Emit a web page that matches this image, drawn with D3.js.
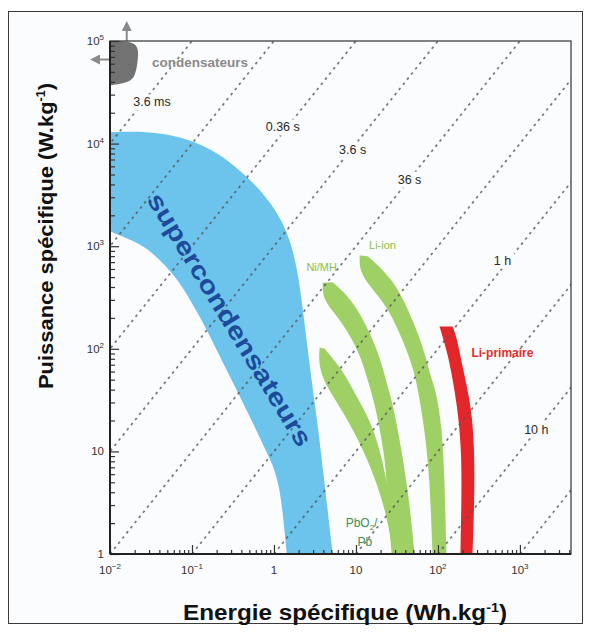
<!DOCTYPE html>
<html><head><meta charset="utf-8">
<script src="https://cdn.jsdelivr.net/npm/d3@7"></script>
<style>
body{margin:0;background:#fff}
svg{display:block;font-family:"Liberation Sans",Arial,Helvetica,sans-serif}
</style>
</head><body>
<svg id="chart" width="590" height="634"></svg>
<script>
// ---------- DATA ----------
// Axis ticks (E in Wh/kg, P in W/kg)
const xTicks = [0.01, 0.1, 1, 10, 100, 1000];
const xTickBase = ["10", "10", "1", "10", "10", "10"];
const xTickExp  = ["−2", "−1", "", "", "2", "3"];
const yTicks = [1, 10, 100, 1000, 10000, 100000];
const yTickBase = ["1", "10", "10", "10", "10", "10"];
const yTickExp  = ["", "", "2", "3", "4", "5"];

// Constant discharge-time lines (hours): P = E / t
const durationsH = [1e-6, 1e-5, 1e-4, 1e-3, 1e-2, 1e-1, 1, 10, 100, 1000];
const durationLabels = [
  {text: "3.6 ms", E: 0.0325, P: 25400},
  {text: "0.36 s", E: 1.28,   P: 14500},
  {text: "3.6 s",  E: 9.1,    P: 8800},
  {text: "36 s",   E: 45,     P: 4490},
  {text: "1 h",    E: 612,    P: 727},
  {text: "10 h",   E: 1585,   P: 16.3}
];

// Regions: two edges each, listed top -> bottom, points [E, P]
const condensateurs = [[0.01,100000],[0.0225,100000],[0.022,66000],[0.0205,46000],[0.017,39000],[0.01,37000]];
const superUpper = [[0.01,12900],[0.028,13200],[0.071,11800],[0.18,8800],[0.38,5600],[0.73,3350],[1.18,1950],
  [1.56,1165],[1.9,635],[2.24,258],[2.73,67],[3.32,21.8],[3.93,7.1],[5.2,1]];
const superLower = [[0.01,1395],[0.0175,1165],[0.028,973],[0.049,635],[0.077,405],[0.125,206],[0.2,98],
  [0.315,46.8],[0.51,21.8],[0.82,9.7],[1.18,5.3],[1.43,1]];
const pbLeft  = [[3.61,103],[3.5,75],[3.9,52.3],[4.92,37.3],[8.38,19],[13.5,8.86],[20.6,3.6],[25.7,1.71],[28,1]];
const pbRight = [[4.16,100],[5.82,73],[7.7,52.3],[9.9,35.7],[15.5,19],[20.6,8.86],[23.7,4.94],[29.6,2.15],[34,1]];
const nimhLeft  = [[3.93,440],[3.95,300],[5.98,206],[8.61,132],[11.4,84],[13.9,50],[16.4,31.9],[18.9,19],
  [22.4,8.86],[23.7,4.94],[27.2,1]];
const nimhRight = [[5.2,445],[7.7,338],[11.1,226],[15.5,132],[20.6,73],[24.3,42.8],[27.2,31.9],[31.3,19],
  [37.1,8.86],[42.7,4.22],[47.7,2.01],[51.9,1]];
const liionLeft  = [[11.1,810],[11.1,555],[16,378],[23.7,258],[31.3,165],[41.5,98],[51.9,58.6],[59.7,31.9],
  [66.8,19],[79,6.18],[85.9,1]];
const liionRight = [[13.9,800],[21.1,593],[31.3,405],[41.5,258],[54.8,154],[68.7,92],[83.6,50],[93.5,40],
  [110.6,19],[120,6.18],[127,1]];
const liprimLeft  = [[104.5,165],[127,98],[142,67],[173,27.3],[194,10.4],[194,3.37],[188,1]];
const liprimRight = [[151,165],[169,132],[199,67],[257,27.3],[279,10.4],[279,3.37],[264,1]];

const regionLabels = [
  {text: "condensateurs", E: 0.125, P: 62400, color: "#8a8a8a", size: 13.5, weight: "bold"},
  {text: "Ni/MH",  E: 3.82, P: 621,  color: "#86bf4a", size: 11, weight: "normal"},
  {text: "Li-ion", E: 21.1, P: 1018, color: "#86bf4a", size: 11, weight: "normal"},
  {text: "Li-primaire", E: 612, P: 92, color: "#e0302f", size: 12, weight: "bold"}
];

// ---------- CHART ----------
const svg = d3.select("#chart");
const m = {l: 110, r: 571, t: 41, b: 554};
const x = d3.scaleLog().domain([0.01, 4200]).range([m.l, m.r]);
const y = d3.scaleLog().domain([1, 1e5]).range([m.b, m.t]);

svg.append("rect").attr("x", 8.5).attr("y", 11.5).attr("width", 574).attr("height", 612)
  .attr("fill", "#fbfcfd").attr("stroke", "#3a3a3a").attr("stroke-width", 1);

const defs = svg.append("defs");
defs.append("clipPath").attr("id", "plot")
  .append("rect").attr("x", m.l).attr("y", m.t).attr("width", m.r - m.l).attr("height", m.b - m.t);

const plot = svg.append("g").attr("clip-path", "url(#plot)");

const edge = d3.line().x(d => x(d[0])).y(d => y(d[1])).curve(d3.curveBasis);
const band = (a, b) => edge(a) + edge(b.slice().reverse()).replace(/^M/, "L") + "Z";

plot.append("path").attr("d", edge(condensateurs) + "Z").attr("fill", "#727272");
plot.append("path").attr("d", band(superUpper, superLower)).attr("fill", "#6cc3ec");
plot.append("path").attr("d", band(pbLeft, pbRight)).attr("fill", "#9fd065");
plot.append("path").attr("d", band(nimhLeft, nimhRight)).attr("fill", "#9fd065");
plot.append("path").attr("d", band(liionLeft, liionRight)).attr("fill", "#9fd065");
plot.append("path").attr("d", band(liprimLeft, liprimRight)).attr("fill", "#e3262a");

// constant-time dashed lines
plot.selectAll("line.t").data(durationsH).join("line").attr("class", "t")
  .attr("x1", t => x(t * 1)).attr("y1", y(1))
  .attr("x2", t => x(t * 1e5)).attr("y2", y(1e5))
  .attr("stroke", "#555").attr("stroke-opacity", 0.8)
  .attr("stroke-width", 1.7).attr("stroke-dasharray", "2.6,4");

// labels on lines (knock-out background)
const dl = plot.selectAll("g.dl").data(durationLabels).join("g").attr("class", "dl")
  .attr("transform", d => `translate(${x(d.E)},${y(d.P)})`);
dl.append("text").attr("text-anchor", "middle").attr("dy", "0.35em")
  .attr("font-size", 12.5).attr("fill", "#2a2a2a").text(d => d.text)
  .each(function() {
    const b = this.getBBox();
    d3.select(this.parentNode).insert("rect", "text")
      .attr("x", b.x - 3).attr("y", b.y - 1).attr("width", b.width + 6).attr("height", b.height + 2)
      .attr("fill", "#fbfcfd");
  });

// region labels
svg.selectAll("text.rl").data(regionLabels).join("text").attr("class", "rl")
  .attr("x", d => x(d.E)).attr("y", d => y(d.P)).attr("dy", "0.35em")
  .attr("text-anchor", "middle").attr("font-size", d => d.size).attr("font-weight", d => d.weight)
  .attr("fill", d => d.color).text(d => d.text);

svg.append("text")
  .attr("transform", `translate(${x(0.29)},${y(193)}) rotate(58.6)`)
  .attr("text-anchor", "middle").attr("dy", "0.35em")
  .attr("font-size", 25).attr("font-weight", "bold").attr("fill", "#1d4b9a")
  .attr("textLength", 292).attr("lengthAdjust", "spacingAndGlyphs")
  .text("supercondensateurs");

const pb = svg.append("text").attr("x", x(11.7)).attr("y", y(2.01)).attr("dy", "0.35em")
  .attr("text-anchor", "middle").attr("font-size", 12).attr("fill", "#3d8f5a");
pb.append("tspan").text("PbO");
pb.append("tspan").attr("font-size", 8).attr("dy", 3).text("2");
pb.append("tspan").attr("dy", -3).text("/");
svg.append("text").attr("x", x(12.8)).attr("y", y(1.31)).attr("dy", "0.35em")
  .attr("text-anchor", "middle").attr("font-size", 12).attr("fill", "#3d8f5a").text("Pb");

// arrows from condensateurs
defs.append("marker").attr("id", "ah").attr("viewBox", "0 0 10 10").attr("refX", 5).attr("refY", 5)
  .attr("markerWidth", 5).attr("markerHeight", 5).attr("orient", "auto")
  .append("path").attr("d", "M0,0L10,5L0,10Z").attr("fill", "#8a8a8a");
svg.append("line").attr("x1", x(0.016)).attr("y1", y(1e5)).attr("x2", x(0.016)).attr("y2", y(1e5) - 15)
  .attr("stroke", "#8a8a8a").attr("stroke-width", 2).attr("marker-end", "url(#ah)");
svg.append("line").attr("x1", x(0.01)).attr("y1", y(66000)).attr("x2", x(0.01) - 15).attr("y2", y(66000))
  .attr("stroke", "#8a8a8a").attr("stroke-width", 2).attr("marker-end", "url(#ah)");

// axes (inward ticks)
const isMajor = v => Math.abs(Math.log10(v) - Math.round(Math.log10(v))) < 1e-9;
const xMinor = x.ticks().filter(v => !isMajor(v));
const yMinor = y.ticks().filter(v => !isMajor(v));
const styleAxis = g => { g.select(".domain").remove(); g.selectAll("line").attr("stroke", "#333").attr("stroke-width", 1.2); };
svg.append("g").attr("transform", `translate(0,${m.b})`)
  .call(d3.axisBottom(x).tickValues(xMinor).tickSize(-4).tickFormat("")).call(styleAxis);
svg.append("g").attr("transform", `translate(0,${m.b})`)
  .call(d3.axisBottom(x).tickValues(xTicks).tickSize(-9).tickFormat("")).call(styleAxis);
svg.append("g").attr("transform", `translate(${m.l},0)`)
  .call(d3.axisLeft(y).tickValues(yMinor).tickSize(-5).tickFormat("")).call(styleAxis);
svg.append("g").attr("transform", `translate(${m.l},0)`)
  .call(d3.axisLeft(y).tickValues(yTicks).tickSize(-9).tickFormat("")).call(styleAxis);

svg.append("rect").attr("x", m.l).attr("y", m.t).attr("width", m.r - m.l).attr("height", m.b - m.t)
  .attr("fill", "none").attr("stroke", "#333").attr("stroke-width", 1.2);
svg.append("line").attr("x1", m.l).attr("x2", m.l).attr("y1", m.t).attr("y2", m.b).attr("stroke", "#222").attr("stroke-width", 2);
svg.append("line").attr("x1", m.l).attr("x2", m.r).attr("y1", m.b).attr("y2", m.b).attr("stroke", "#222").attr("stroke-width", 2);

// tick labels
xTicks.forEach((v, i) => {
  const t = svg.append("text").attr("x", x(v)).attr("y", m.b + 20).attr("text-anchor", "middle")
    .attr("font-size", 11.5).attr("fill", "#333");
  t.append("tspan").text(xTickBase[i]);
  if (xTickExp[i]) t.append("tspan").attr("dy", -5).attr("font-size", 8).text(xTickExp[i]);
});
yTicks.forEach((v, i) => {
  const t = svg.append("text").attr("x", m.l - 6).attr("y", y(v) + 4).attr("text-anchor", "end")
    .attr("font-size", 11.5).attr("fill", "#333");
  t.append("tspan").text(yTickBase[i]);
  if (yTickExp[i]) t.append("tspan").attr("dy", -5).attr("font-size", 8).text(yTickExp[i]);
});

// axis titles
const xt = svg.append("text").attr("x", 345).attr("y", 620).attr("text-anchor", "middle")
  .attr("font-size", 22).attr("font-weight", "bold").attr("fill", "#111")
  .attr("textLength", 324).attr("lengthAdjust", "spacingAndGlyphs");
xt.append("tspan").text("Energie spécifique (Wh.kg");
xt.append("tspan").attr("dy", -8).attr("font-size", 13).text("-1");
xt.append("tspan").attr("dy", 8).text(")");

const yt = svg.append("text").attr("transform", "translate(53,236) rotate(-90)").attr("text-anchor", "middle")
  .attr("font-size", 21).attr("font-weight", "bold").attr("fill", "#111")
  .attr("textLength", 306).attr("lengthAdjust", "spacingAndGlyphs");
yt.append("tspan").text("Puissance spécifique (W.kg");
yt.append("tspan").attr("dy", -8).attr("font-size", 12).text("-1");
yt.append("tspan").attr("dy", 8).text(")");
</script>
</body></html>
